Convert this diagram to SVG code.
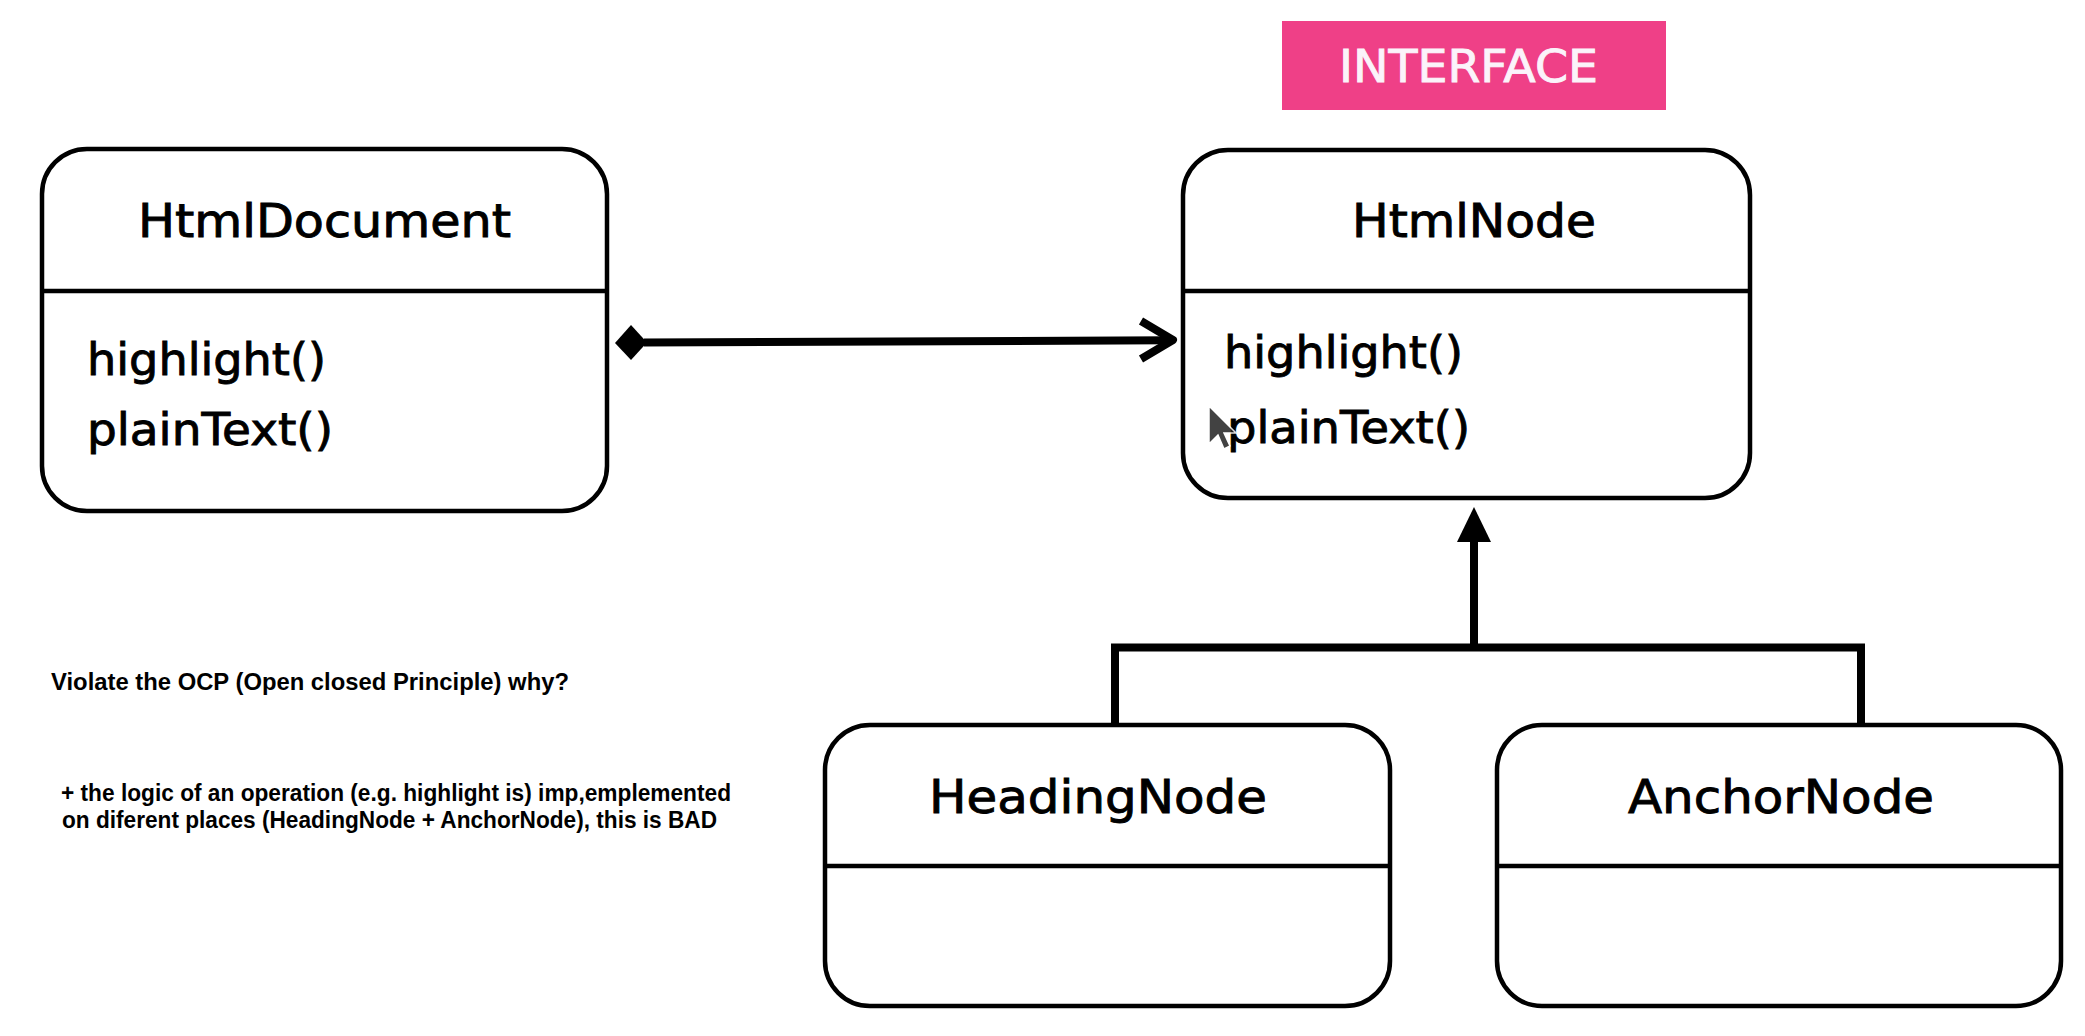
<svg xmlns="http://www.w3.org/2000/svg" width="2085" height="1036" viewBox="0 0 2085 1036">
<style>
.box{fill:#fff;stroke:#000;stroke-width:4.5}
.div{stroke:#000;stroke-width:4.5}
.title{font-family:"DejaVu Sans","Noto Sans",sans-serif;font-size:46px;fill:#000;stroke:#000;stroke-width:0.9}
.meth{font-family:"DejaVu Sans","Noto Sans",sans-serif;font-size:44px;fill:#000;stroke:#000;stroke-width:0.9}
.note{font-family:"Liberation Sans",Arial,sans-serif;font-weight:bold;fill:#000}
.con{fill:none;stroke:#000;stroke-width:8}
.head{fill:#000;stroke:none}
</style>
<rect width="2085" height="1036" fill="#fff"/>

<g id="interface-label">
<rect x="1282" y="21" width="384" height="89" fill="#EF4087"/>
<text x="1339" y="82" font-family="DejaVu Sans,'Noto Sans',sans-serif" font-size="45" fill="#FBF3FA" stroke="#FBF3FA" stroke-width="0.9" textLength="259" lengthAdjust="spacingAndGlyphs">INTERFACE</text>
</g>

<g id="connectors">
<path class="con" d="M644,342.5 L1170,340.3"/>
<polygon class="head" points="615,343 631,325 647,342.5 631,360"/>
<polyline class="con" points="1141,321 1173,340 1141,359" stroke-linejoin="round"/>
<path class="con" d="M1474,650 L1474,540" stroke-width="9"/>
<polygon class="head" points="1457,542 1474,507 1491,542"/>
<path class="con" d="M1111,647.5 L1865,647.5" stroke-width="9"/>
<path class="con" d="M1115,647 L1115,725"/>
<path class="con" d="M1861,647 L1861,725"/>
</g>

<g id="HtmlDocument">
<rect class="box" x="42" y="149" width="565" height="362" rx="45"/>
<line class="div" x1="42" y1="291" x2="607" y2="291"/>
<text class="title" x="138" y="237" textLength="373" lengthAdjust="spacingAndGlyphs">HtmlDocument</text>
<text class="meth" x="87" y="375" textLength="239" lengthAdjust="spacingAndGlyphs">highlight()</text>
<text class="meth" x="87" y="445" textLength="246" lengthAdjust="spacingAndGlyphs">plainText()</text>
</g>

<g id="HtmlNode">
<rect class="box" x="1183" y="150" width="567" height="348" rx="45"/>
<line class="div" x1="1183" y1="291" x2="1750" y2="291"/>
<text class="title" x="1352" y="237" textLength="244" lengthAdjust="spacingAndGlyphs">HtmlNode</text>
<text class="meth" x="1224" y="368" textLength="239" lengthAdjust="spacingAndGlyphs">highlight()</text>
<text class="meth" x="1227" y="443" textLength="243" lengthAdjust="spacingAndGlyphs">plainText()</text>
</g>

<g id="HeadingNode">
<rect class="box" x="825" y="725" width="565" height="281" rx="45"/>
<line class="div" x1="825" y1="866" x2="1390" y2="866"/>
<text class="title" x="929" y="813" textLength="338" lengthAdjust="spacingAndGlyphs">HeadingNode</text>
</g>

<g id="AnchorNode">
<rect class="box" x="1497" y="725" width="564" height="281" rx="45"/>
<line class="div" x1="1497" y1="866" x2="2061" y2="866"/>
<text class="title" x="1628" y="813" textLength="306" lengthAdjust="spacingAndGlyphs">AnchorNode</text>
</g>

<g id="notes">
<text class="note" x="51" y="690" font-size="24" textLength="518" lengthAdjust="spacingAndGlyphs">Violate the OCP (Open closed Principle) why?</text>
<text class="note" x="61" y="801" font-size="23" textLength="670" lengthAdjust="spacingAndGlyphs">+ the logic of an operation (e.g. highlight is) imp,emplemented</text>
<text class="note" x="62" y="828" font-size="23" textLength="655" lengthAdjust="spacingAndGlyphs">on diferent places (HeadingNode + AnchorNode), this is BAD</text>
</g>

<g id="cursor" opacity="0.85">
<path d="M1209,406 L1209,444 L1218,435 L1224,449 L1230,446 L1224,433 L1236,433 Z" fill="#222" stroke="#fff" stroke-width="1.5"/>
</g>
</svg>
